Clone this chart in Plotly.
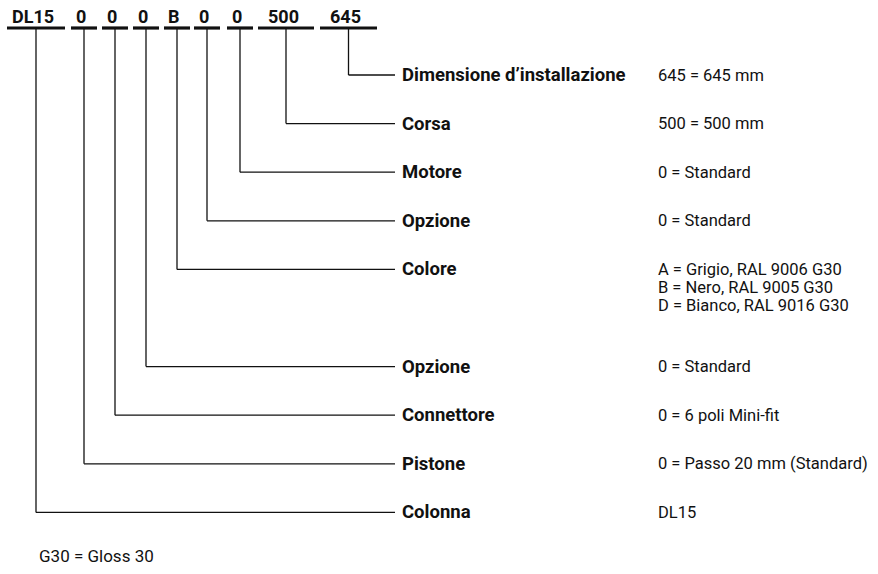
import plotly.graph_objects as go

# ---- data ----
code_parts = ["DL15", "0", "0", "0", "B", "0", "0", "500", "645"]
# label / description rows, top to bottom
row_labels = ["Dimensione d\u2019installazione", "Corsa", "Motore", "Opzione", "Colore",
              "Opzione", "Connettore", "Pistone", "Colonna"]
row_values = [["645 = 645 mm"], ["500 = 500 mm"], ["0 = Standard"], ["0 = Standard"],
              ["A = Grigio, RAL 9006 G30", "B = Nero, RAL 9005 G30", "D = Bianco, RAL 9016 G30"],
              ["0 = Standard"], ["0 = 6 poli Mini-fit"], ["0 = Passo 20 mm (Standard)"], ["DL15"]]
# which row each code part links to
part_row = [8, 7, 6, 5, 4, 3, 2, 1, 0]
footnote = "G30 = Gloss 30"

# ---- layout (pixel space) ----
W, H = 878, 574
seg_start = [7, 71, 102, 133, 164, 194, 227, 258, 320]
seg_end = [65, 97, 128, 159, 190, 220, 253, 314, 377]
underline_y = 28
code_y = 16
row_top = 75
row_gap = 48.6
row_gap_extra = [0, 0, 0, 0, 0, 1, 1, 1, 1]  # Colore takes an extra slot
line_end_x = 395
label_x = 400
value_x = 656
value_line_h = 18

FONT = "Roboto"
ink = "#111111"

def row_y(i):
    return row_top + row_gap * (i + row_gap_extra[i])

shapes = []
annotations = []

for k, part in enumerate(code_parts):
    x0, x1 = seg_start[k], seg_end[k]
    xc = (x0 + x1) / 2
    shapes.append(dict(type="line", x0=x0, x1=x1, y0=underline_y, y1=underline_y,
                       line=dict(color=ink, width=3.2)))
    ry = row_y(part_row[k])
    shapes.append(dict(type="line", x0=xc, x1=xc, y0=underline_y, y1=ry,
                       line=dict(color=ink, width=1.3)))
    shapes.append(dict(type="line", x0=xc, x1=line_end_x, y0=ry, y1=ry,
                       line=dict(color=ink, width=1.3)))
    annotations.append(dict(x=xc - 3, y=code_y, text=f"<b>{part}</b>", showarrow=False,
                            xanchor="center", yanchor="middle",
                            font=dict(family=FONT, size=18, color=ink)))

for i, lab in enumerate(row_labels):
    ry = row_y(i)
    annotations.append(dict(x=label_x, y=ry, text=f"<b>{lab}</b>", showarrow=False,
                            xanchor="left", yanchor="middle",
                            font=dict(family=FONT, size=18.5, color=ink)))
    for j, v in enumerate(row_values[i]):
        annotations.append(dict(x=value_x, y=ry + j * value_line_h, text=v, showarrow=False,
                                xanchor="left", yanchor="middle",
                                font=dict(family=FONT, size=16.5, color=ink)))

annotations.append(dict(x=37, y=556, text=footnote, showarrow=False,
                        xanchor="left", yanchor="middle",
                        font=dict(family=FONT, size=17, color=ink)))

fig = go.Figure()
fig.update_layout(
    width=W, height=H,
    margin=dict(l=0, r=0, t=0, b=0),
    paper_bgcolor="white", plot_bgcolor="white",
    xaxis=dict(range=[0, W], visible=False, fixedrange=True),
    yaxis=dict(range=[H, 0], visible=False, fixedrange=True),
    shapes=shapes, annotations=annotations, showlegend=False,
)
fig.write_html("out.html", config={"displayModeBar": False},
               post_script="document.body.style.margin='0';document.body.style.overflow='hidden';")
